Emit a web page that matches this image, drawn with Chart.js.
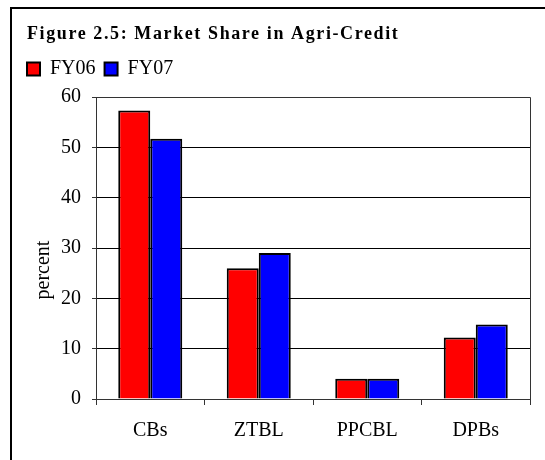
<!DOCTYPE html>
<html>
<head>
<meta charset="utf-8">
<script src="https://cdn.jsdelivr.net/npm/chart.js@4.4.0/dist/chart.umd.min.js"></script>
<style>
  html, body { margin: 0; padding: 0; background: #fff; overflow: hidden; }
  #frame { position: absolute; left: 10px; top: 7px; width: 600px; height: 500px;
           border-left: 2px solid #000; border-top: 2px solid #000; }
  #bar { position: absolute; left: 0; top: 0; }
</style>
</head>
<body>
<div id="frame"></div>
<canvas id="bar" width="545" height="460"></canvas>
<script>
var categories = ['CBs', 'ZTBL', 'PPCBL', 'DPBs'];
var fy06 = [57.3, 26.0, 4.0, 12.2];
var fy07 = [51.7, 29.0, 4.0, 14.8];
var yTicks = [0, 10, 20, 30, 40, 50, 60];
var titleText = 'Figure 2.5: Market Share in Agri-Credit';
var yTitle = 'percent';

var serif = "'Liberation Serif', 'Times New Roman', serif";

// title (letter spaced), y title, and the top/right edges of the plot
var decorations = {
    id: 'decorations',
    beforeInit: function (chart) {
        var fit = chart.legend.fit;
        chart.legend.fit = function () {
            fit.call(this);
            this.height += 8;
        };
    },
    afterDraw: function (chart) {
        var a = chart.chartArea, c = chart.ctx;
        c.save();
        c.strokeStyle = '#333';
        c.lineWidth = 1;
        c.beginPath();
        c.moveTo(a.left, a.top + 0.5);
        c.lineTo(a.right + 0.5, a.top + 0.5);
        c.lineTo(a.right + 0.5, a.bottom);
        c.stroke();

        c.fillStyle = '#000';
        c.font = 'bold 18px ' + serif;
        c.letterSpacing = '1.6px';
        c.textBaseline = 'alphabetic';
        c.textAlign = 'left';
        c.fillText(titleText, 27, 39);

        c.letterSpacing = '0px';
        c.font = '20px ' + serif;
        c.translate(44, 270);
        c.rotate(-Math.PI / 2);
        c.textAlign = 'center';
        c.textBaseline = 'middle';
        c.fillText(yTitle, 0, 0);
        c.restore();
    }
};

document.addEventListener('DOMContentLoaded', function () {
    var ctx = document.getElementById('bar').getContext('2d');

    var data = {
        labels: categories,
        datasets: [{
            label: 'FY06',
            data: fy06,
            backgroundColor: '#FF0000',
            borderColor: '#000',
            borderWidth: 2,
            categoryPercentage: 0.59,
            barPercentage: 1,
        }, {
            label: 'FY07',
            data: fy07,
            backgroundColor: '#0000FF',
            borderColor: '#000',
            borderWidth: 2,
            categoryPercentage: 0.59,
            barPercentage: 1,
        }],
    };

    var options = {
        responsive: false,
        animation: false,
        layout: { padding: { left: 18, right: 15, top: 50, bottom: 15 } },
        plugins: {
            title: { display: false },
            legend: {
                align: 'start',
                labels: {
                    color: '#000',
                    font: { family: serif, size: 20 },
                    boxWidth: 13,
                    boxHeight: 13,
                    padding: 9,
                },
            },
            tooltip: { enabled: false },
        },
        scales: {
            x: {
                grid: {
                    offset: true,
                    drawOnChartArea: false,
                    drawTicks: true,
                    tickLength: 6,
                    color: '#333',
                },
                border: { color: '#333' },
                ticks: { color: '#000', font: { family: serif, size: 20 }, padding: 14 },
                afterFit: function (s) { s.height = 46; },
            },
            y: {
                min: 0,
                max: 60,
                afterBuildTicks: function (s) {
                    s.ticks = yTicks.map(function (v) { return { value: v }; });
                },
                grid: { color: '#000', tickLength: 4, tickColor: '#333' },
                border: { color: '#333' },
                ticks: { color: '#000', font: { family: serif, size: 20 }, padding: 11 },
                afterFit: function (s) { s.width = 78; },
            },
        },
    };

    new Chart(ctx, {
        type: 'bar',
        data: data,
        options: options,
        plugins: [decorations],
    });
});
</script>
</body>
</html>
